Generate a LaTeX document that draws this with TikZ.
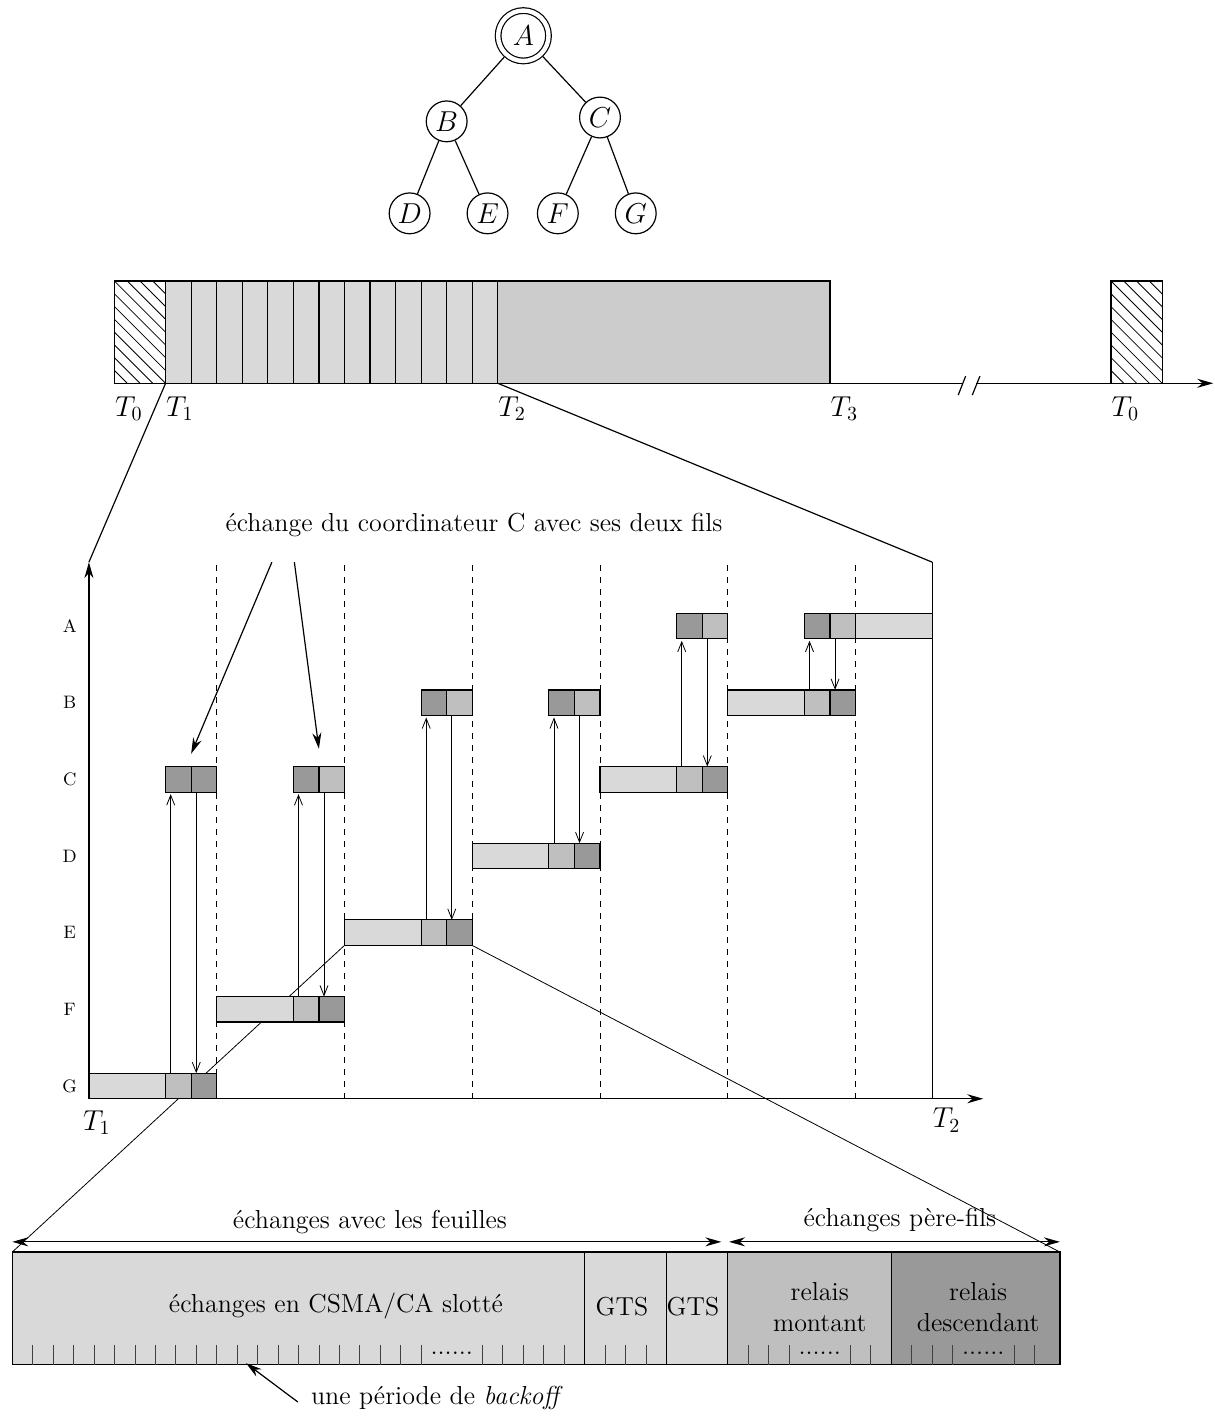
\RequirePackage{fix-cm}
\documentclass[tikz,border=0pt]{standalone}
\usetikzlibrary{arrows.meta,backgrounds}
\definecolor{lite}{gray}{0.85}
\definecolor{mid}{gray}{0.75}
\definecolor{dark}{gray}{0.6}
\definecolor{cfp}{gray}{0.8}
\tikzset{
  cell/.style={draw, fill=lite, inner sep=0pt, outer sep=0pt, anchor=south west,
    minimum height=12.775pt, minimum width=12.775pt},
  wide/.style={minimum width=38.325pt},
  noeud/.style={circle, draw, minimum size=20.4pt, inner sep=0pt, font=\fontsize{14.4}{17}\selectfont},
  tlab/.style={anchor=north west, inner sep=0pt, font=\fontsize{14.4}{17}\selectfont},
  msg/.style={thin, -{Straight Barb[length=5pt,width=4pt]}},
  big/.style={-{Stealth[length=8pt,width=4.5pt]}},
  bigboth/.style={{Stealth[length=8pt,width=4.5pt]}-{Stealth[length=8pt,width=4.5pt]}},
  rowlab/.style={font=\fontsize{9}{11}\selectfont},
}
\begin{document}
\begin{tikzpicture}[x=12.775pt,y=12.775pt,semithick,font=\fontsize{13}{15.6}\selectfont]
\useasboundingbox (-3.48,-12.65) rectangle (44.03,43.0);
% l'arbre
\node[noeud, double, double distance=2.2pt, minimum size=25.2pt, outer sep=1.7pt] (A) at (17,41.6) {$A$};
\node[noeud] (B) at (14,38.25) {$B$};
\node[noeud] (C) at (20,38.4) {$C$};
\node[noeud] (D) at (12.55,34.65) {$D$};
\node[noeud] (E) at (15.6,34.65) {$E$};
\node[noeud] (F) at (18.35,34.65) {$F$};
\node[noeud] (G) at (21.4,34.65) {$G$};
\draw (A) -- (B);
\draw (A) -- (C);
\draw (B) -- (D);
\draw (B) -- (E);
\draw (C) -- (F);
\draw (C) -- (G);
% la supertrame
\foreach \xa in {1,40} {
  \begin{scope}
    \clip (\xa,28) rectangle (\xa+2,32);
    \foreach \s in {-4,-3.5,...,2} \draw[thin] (\xa+\s,32) -- (\xa+\s+4,28);
  \end{scope}
  \draw (\xa,28) rectangle (\xa+2,32);
}
\foreach \i in {3,...,15} \draw[fill=lite] (\i,28) rectangle (\i+1,32);
\draw[fill=cfp] (16,28) rectangle (29,32);
\draw (1,28) -- (34.17,28);
\draw[big] (34.72,28) -- (44,28);
\draw (34.02,27.54) -- (34.31,28.28);
\draw (34.57,27.54) -- (34.87,28.28);
\coordinate (s1) at (3,28);
\coordinate (s2) at (16,28);
\node[tlab] (lt0) at (1,27.5) {$T_0$};
\node[tlab] (lt1) at (3,27.5) {$T_1$};
\node[tlab] (lt2) at (16,27.5) {$T_2$};
\node[tlab] (lt3) at (29,27.5) {$T_3$};
\node[tlab] (lt4) at (40,27.5) {$T_0$};
% le zoom sur la CAP
\coordinate (o) at (0,0);
\coordinate (ytop) at (0,21);
\coordinate (xend) at (35,0);
\coordinate (t2b) at (33,0);
\coordinate (t2h) at (33,21);
\draw[big] (o) -- (ytop);
\draw[big] (o) -- (xend);
\draw (t2b) -- (t2h);
\draw (s1) -- (ytop);
\draw (s2) -- (t2h);
\foreach \x in {5,10,...,30} \draw[thin,dashed] (\x,0) -- (\x,21);
\node[tlab] (c1) at (-0.25,-0.45) {$T_1$};
\node[tlab] (c2) at (33,-0.35) {$T_2$};
\foreach \n/\y in {A/18,B/15,C/12,D/9,E/6,F/3,G/0}
  \node[rowlab] (r\n) at (-0.75,\y+0.5) {\n};
\foreach \k/\c/\p/\f in {0/0/12/dark,1/3/12/mid,2/6/15/mid,3/9/15/mid,4/12/18/mid,5/15/18/mid} {
  \node[cell,wide] (cl\k) at (5*\k,\c) {};
  \node[cell,fill=mid] (cm\k) at (5*\k+3,\c) {};
  \node[cell,fill=dark] (cd\k) at (5*\k+4,\c) {};
  \node[cell,fill=dark] (pa\k) at (5*\k+3,\p) {};
  \node[cell,fill=\f] (pb\k) at (5*\k+4,\p) {};
  \draw[msg, shorten >=1pt] ([xshift=-3.83pt]cm\k.north) -- ([xshift=-3.83pt]pa\k.south);
  \draw[msg] ([xshift=-3.83pt]pb\k.south) -- ([xshift=-3.83pt]cd\k.north);
}
\node[cell,wide] (ax) at (30,18) {};
\node (fils) at (15.07,22.45) {échange du coordinateur C avec ses deux fils};
\coordinate (f1) at (7.16,21);
\coordinate (f2) at (8.04,21);
\draw[big] (f1) -- ([yshift=6.4pt]pa0.north east);
\draw[big] (f2) -- ([yshift=8.9pt]pb1.north west);
% le detail d'un slot
\coordinate (bnw) at (-3,-6);
\coordinate (bne) at (38,-6);
\begin{scope}[on background layer]
  \draw (bnw) -- (cl2.south west);
  \draw (cd2.south east) -- (bne);
\end{scope}
\draw[fill=lite] (-3,-10.4) rectangle (25,-6);
\draw (19.4,-10.4) -- (19.4,-6);
\draw (22.6,-10.4) -- (22.6,-6);
\draw[fill=mid] (25,-10.4) rectangle (31.4,-6);
\draw[fill=dark] (31.4,-10.4) rectangle (38,-6);
\foreach \k in {1,...,20,23,24,25,26,27,29,30,31,36,37,38,41,42,44,45,46,49,50}
  \draw[thin, black!75] (-3+0.8*\k,-10.4) -- ++(0,0.78);
\node (p1) at (14.2,-9.96) {......};
\node (p2) at (28.6,-9.96) {......};
\node (p3) at (35,-9.96) {......};
\node (csma) at (9.67,-8.12) {échanges en CSMA/CA slotté};
\node (gts1) at (20.86,-8.12) {GTS};
\node (gts2) at (23.64,-8.12) {GTS};
\node[align=center] (mont) at (28.6,-8.15) {relais\\montant};
\node[align=center] (desc) at (34.8,-8.15) {relais\\descendant};
\coordinate (fa) at (-3,-5.6);
\coordinate (fb) at (24.75,-5.6);
\coordinate (pfa) at (25.05,-5.6);
\coordinate (pfb) at (38,-5.6);
\draw[bigboth] (fa) -- (fb);
\draw[bigboth] (pfa) -- (pfb);
\node (feu) at (11,-4.83) {échanges avec les feuilles};
\node (pf) at (31.74,-4.75) {échanges père-fils};
\node (bko) at (13.62,-11.71) {une période de \textit{backoff}};
\coordinate (bk) at (6.15,-10.35);
\draw[big] ([xshift=-3pt,yshift=-2pt]bko.west) -- (bk);
\end{tikzpicture}
\end{document}
